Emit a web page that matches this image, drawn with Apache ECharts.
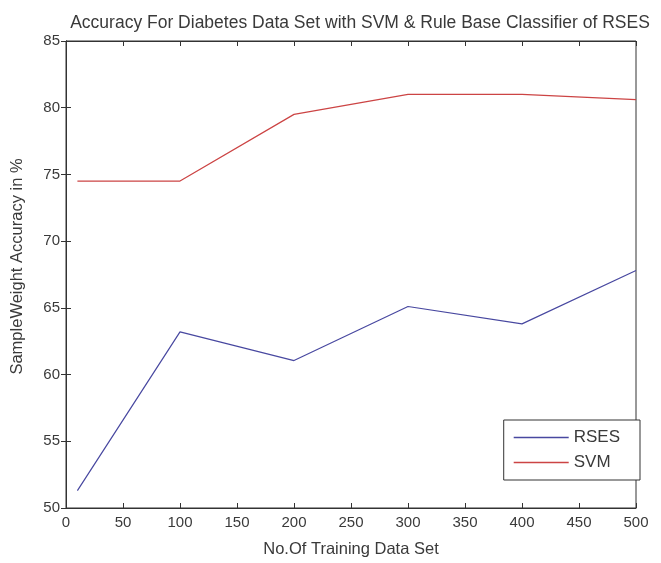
<!DOCTYPE html>
<html>
<head>
<meta charset="utf-8">
<script src="https://cdn.jsdelivr.net/npm/echarts@6/dist/echarts.min.js"></script>
<style>html,body{margin:0;padding:0;background:#fff}#c{width:661px;height:563px}</style>
</head>
<body>
<div id="c"></div>
<script>
const trainingSizes = [10, 100, 200, 300, 400, 500];
const rsesValues = [51.3, 63.2, 61.05, 65.1, 63.8, 67.8];
const svmValues = [74.5, 74.5, 79.5, 81.0, 81.0, 80.6];
const seriesNames = ['RSES', 'SVM'];
const titleText = 'Accuracy For Diabetes Data Set with SVM & Rule Base Classifier of RSES';
const xName = 'No.Of Training Data Set';
const yName = 'SampleWeight Accuracy in %';

const FONT = 'Liberation Sans';
const TXT = '#3a3a3a';
const pairs = vals => trainingSizes.map((x, i) => [x, vals[i]]);

const chart = echarts.init(document.getElementById('c'));
const tickCommon = {show: true, inside: true, length: 5, lineStyle: {color: '#333'}};
chart.setOption({
  animation: false,
  backgroundColor: '#fff',
  title: {text: titleText, left: 355, top: 9, textAlign: 'center',
    textStyle: {fontFamily: FONT, fontSize: 17.5, fontWeight: 'normal', color: TXT}},
  grid: {left: 66, right: 25, top: 41, bottom: 48, show: true, borderColor: '#333', borderWidth: 1, backgroundColor: '#fff'},
  legend: {
    orient: 'vertical', right: 21, top: 420, itemWidth: 55, itemHeight: 1.5, itemGap: 8,
    padding: [9, 20, 9, 10], borderColor: '#333', borderWidth: 1, backgroundColor: '#fff',
    icon: 'rect',
    textStyle: {fontFamily: FONT, fontSize: 17, color: TXT},
    data: seriesNames
  },
  xAxis: [{
    type: 'value', min: 0, max: 500, interval: 50,
    name: xName, nameLocation: 'middle', nameGap: 33,
    nameTextStyle: {fontFamily: FONT, fontSize: 16.5, color: TXT},
    axisLine: {show: true, lineStyle: {color: '#333'}},
    axisTick: tickCommon,
    axisLabel: {fontFamily: FONT, fontSize: 15, color: TXT, margin: 7},
    splitLine: {show: false}
  }, {
    type: 'value', min: 0, max: 500, interval: 50, position: 'top',
    axisLine: {show: true, lineStyle: {color: '#333'}},
    axisTick: tickCommon, axisLabel: {show: false}, splitLine: {show: false}
  }],
  yAxis: [{
    type: 'value', min: 50, max: 85, interval: 5,
    name: yName, nameLocation: 'middle', nameGap: 40,
    nameTextStyle: {fontFamily: FONT, fontSize: 16.5, color: TXT, padding: [0, 0, 0, 16]},
    axisLine: {show: true, lineStyle: {color: '#333'}},
    axisTick: tickCommon,
    axisLabel: {fontFamily: FONT, fontSize: 15, color: TXT, margin: 6},
    splitLine: {show: false}
  }, {
    type: 'value', min: 50, max: 85, interval: 5, position: 'right',
    axisLine: {show: true, lineStyle: {color: '#333'}},
    axisTick: tickCommon, axisLabel: {show: false}, splitLine: {show: false}
  }],
  series: [
    {name: seriesNames[0], type: 'line', data: pairs(rsesValues), showSymbol: false, symbol: 'none',
      lineStyle: {color: '#4848a0', width: 1.2}, itemStyle: {color: '#4848a0'}},
    {name: seriesNames[1], type: 'line', data: pairs(svmValues), showSymbol: false, symbol: 'none',
      lineStyle: {color: '#cc4444', width: 1.2}, itemStyle: {color: '#cc4444'}}
  ]
});
</script>
</body>
</html>
